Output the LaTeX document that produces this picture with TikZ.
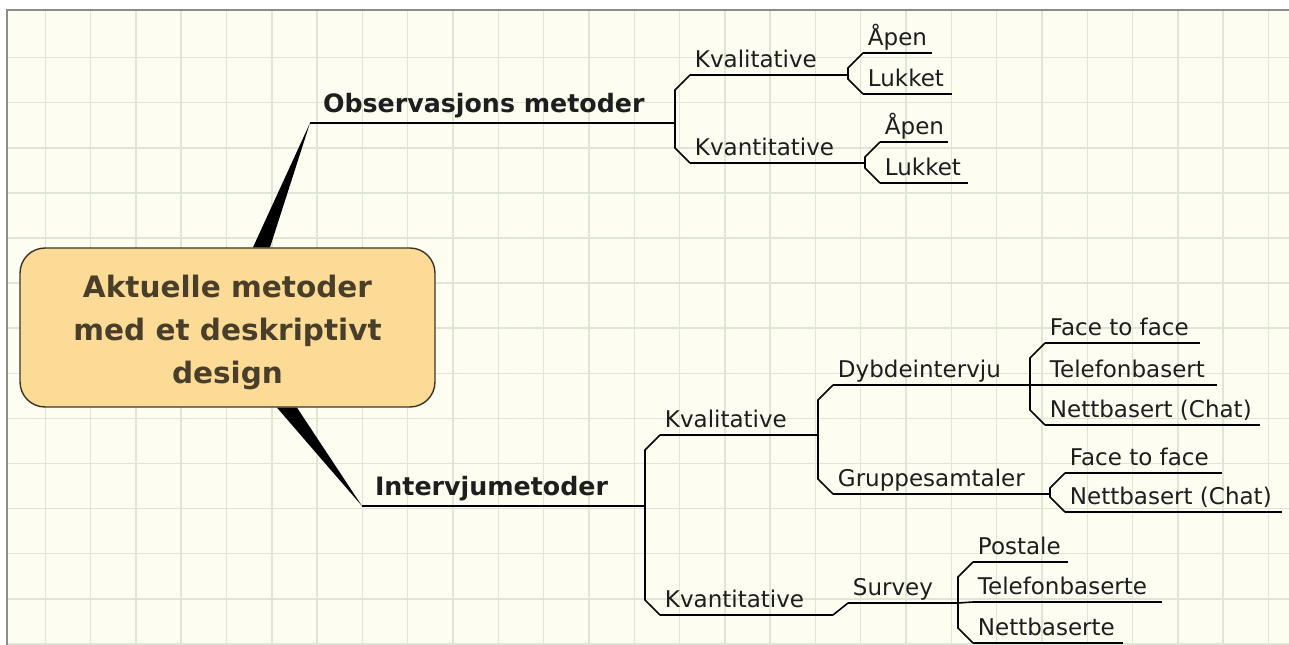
\documentclass[tikz,border=0pt]{standalone}
\usepackage{fontspec}
\setmainfont{DejaVu Sans}
\usetikzlibrary{calc}

\definecolor{paper}{RGB}{253,253,242}
\definecolor{gridcol}{RGB}{224,230,214}
\definecolor{framecol}{RGB}{140,140,140}
\definecolor{rootfill}{RGB}{252,219,150}
\definecolor{rootline}{RGB}{60,52,35}
\definecolor{roottext}{RGB}{72,62,42}
\definecolor{inkcol}{RGB}{30,30,30}

\tikzset{
  link/.style={line width=0.9pt, black},
  topic/.style={anchor=south west, inner xsep=7.4pt, inner ysep=6.2pt, outer sep=0pt,
    text depth=0pt, text=inkcol, font=\bfseries\fontsize{14.4}{17}\selectfont},
  leaf/.style={anchor=south west, inner xsep=2.8pt, inner ysep=4.2pt, outer sep=0pt,
    text depth=0pt, text=inkcol, font=\fontsize{13.1}{16}\selectfont},
}

\begin{document}
\begin{tikzpicture}[x=0.02cm, y=-0.02cm]

  \def\ch{15}

  \useasboundingbox (0,0) rectangle (1289,645);

  % paper and grid
  \fill[white] (0,0) rectangle (1289,645);
  \fill[paper] (7,10) rectangle (1289,645);
  \foreach \k in {1,...,28}
    \draw[gridcol, line width=0.8pt] (45.3*\k,10) -- (45.3*\k,645);
  \foreach \k in {1,...,14}
    \draw[gridcol, line width=0.8pt] (7,12.5+45.1*\k) -- (1289,12.5+45.1*\k);
  \draw[framecol, line width=0.8pt] (7,645) -- (7,10) -- (1289,10);

  % central topic
  \node[draw=rootline, fill=rootfill, line width=0.8pt, rounded corners=0.5cm,
        minimum width=8.3cm, minimum height=3.18cm, align=center, text=roottext,
        font=\bfseries\fontsize{16.8}{24.6}\selectfont]
        (root) at (227.5,327.5) {\rule{0pt}{18.5pt}Aktuelle metoder\\med et deskriptivt\\design};

  % main topics
  \node[topic] (obs) at (310,123) {Observasjons metoder};
  \node[topic] (int) at (362,506) {Intervjumetoder};
  \coordinate (obs-e) at (675,123);
  \coordinate (int-e) at (645,506);

  \fill[black] ($(root.north)+(25.5,0)$) -- (obs.south west) -- ($(root.north)+(42.5,0)$) -- cycle;
  \fill[black] ($(root.south)+(49.5,0)$) -- (int.south west) -- ($(root.south)+(69.5,0)$) -- cycle;
  \draw[link] (obs.south west) -- (obs-e);
  \draw[link] (int.south west) -- (int-e);

  % observasjon branch
  \node[leaf] (oKval) at (690,75) {Kvalitative};
  \node[leaf] (oKvant) at (690,163) {Kvantitative};
  \coordinate (oKval-e) at (848,75);
  \coordinate (oKvant-e) at (865,163);

  \node[leaf] (oKvalA) at (863,53) {Åpen};
  \node[leaf] (oKvalL) at (863,94) {Lukket};
  \node[leaf] (oKvantA) at (880,142) {Åpen};
  \node[leaf] (oKvantL) at (880,183) {Lukket};
  \coordinate (oKvalA-e) at (932,53);
  \coordinate (oKvalL-e) at (952,94);
  \coordinate (oKvantA-e) at (948,142);
  \coordinate (oKvantL-e) at (968,183);

  % intervju branch
  \node[leaf] (iKval) at (660,435) {Kvalitative};
  \node[leaf] (iKvant) at (660,615) {Kvantitative};
  \coordinate (iKval-e) at (818,435);
  \coordinate (iKvant-e) at (833,615);

  \node[leaf] (dyb) at (833,385) {Dybdeintervju};
  \node[leaf] (grp) at (833,494) {Gruppesamtaler};
  \node[leaf] (srv) at (848,603) {Survey};
  \coordinate (dyb-e) at (1030,385);
  \coordinate (grp-e) at (1050,494);
  \coordinate (srv-e) at (958,603);

  \node[leaf] (dF) at (1045,343) {Face to face};
  \node[leaf] (dT) at (1045,385) {Telefonbasert};
  \node[leaf] (dN) at (1045,425) {Nettbasert (Chat)};
  \coordinate (dF-e) at (1200,343);
  \coordinate (dT-e) at (1217,385);
  \coordinate (dN-e) at (1260,425);

  \node[leaf] (gF) at (1065,473) {Face to face};
  \node[leaf] (gN) at (1065,512) {Nettbasert (Chat)};
  \coordinate (gF-e) at (1222,473);
  \coordinate (gN-e) at (1282,512);

  \node[leaf] (sP) at (973,562) {Postale};
  \node[leaf] (sT) at (973,602) {Telefonbaserte};
  \node[leaf] (sN) at (973,643) {Nettbaserte};
  \coordinate (sP-e) at (1068,562);
  \coordinate (sT-e) at (1162,602);
  \coordinate (sN-e) at (1123,643);

  % underlines
  \foreach \n in {oKval,oKvant,oKvalA,oKvalL,oKvantA,oKvantL,iKval,iKvant,dyb,grp,srv,dF,dT,dN,gF,gN,sP,sT,sN}
    \draw[link] (\n.south west) -- (\n-e);

  % forks
  \draw[link] (obs-e) -- ($(obs-e |- oKval.south west)+(0,\ch)$) -- (oKval.south west);
  \draw[link] (obs-e) -- ($(obs-e |- oKvant.south west)+(0,-\ch)$) -- (oKvant.south west);
  \draw[link] (oKval-e) -- ($(oKval-e |- oKvalA.south west)+(0,\ch)$) -- (oKvalA.south west);
  \draw[link] (oKval-e) -- ($(oKval-e |- oKvalL.south west)+(0,-\ch)$) -- (oKvalL.south west);
  \draw[link] (oKvant-e) -- ($(oKvant-e |- oKvantA.south west)+(0,\ch)$) -- (oKvantA.south west);
  \draw[link] (oKvant-e) -- ($(oKvant-e |- oKvantL.south west)+(0,-\ch)$) -- (oKvantL.south west);

  \draw[link] (int-e) -- ($(int-e |- iKval.south west)+(0,\ch)$) -- (iKval.south west);
  \draw[link] (int-e) -- ($(int-e |- iKvant.south west)+(0,-\ch)$) -- (iKvant.south west);
  \draw[link] (iKval-e) -- ($(iKval-e |- dyb.south west)+(0,\ch)$) -- (dyb.south west);
  \draw[link] (iKval-e) -- ($(iKval-e |- grp.south west)+(0,-\ch)$) -- (grp.south west);
  \draw[link] (iKvant-e) -- (srv.south west);

  \draw[link] (dyb-e) -- ($(dyb-e |- dF.south west)+(0,\ch)$) -- (dF.south west);
  \draw[link] (dyb-e) -- (dT.south west);
  \draw[link] (dyb-e) -- ($(dyb-e |- dN.south west)+(0,-\ch)$) -- (dN.south west);
  \draw[link] (grp-e) -- ($(grp-e |- gF.south west)+(0,\ch)$) -- (gF.south west);
  \draw[link] (grp-e) -- ($(grp-e |- gN.south west)+(0,-\ch)$) -- (gN.south west);
  \draw[link] (srv-e) -- ($(srv-e |- sP.south west)+(0,\ch)$) -- (sP.south west);
  \draw[link] (srv-e) -- (sT.south west);
  \draw[link] (srv-e) -- ($(srv-e |- sN.south west)+(0,-\ch)$) -- (sN.south west);

\end{tikzpicture}
\end{document}
